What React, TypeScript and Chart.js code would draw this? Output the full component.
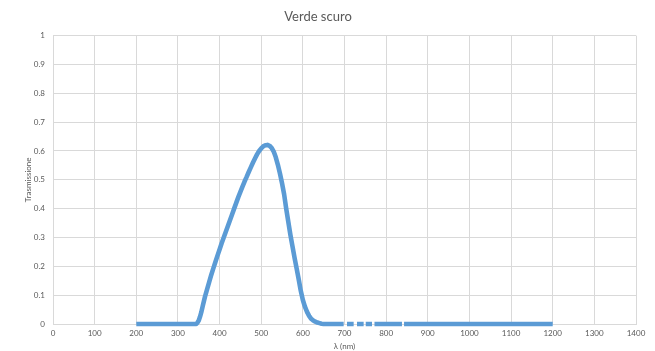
import React, { useEffect, useRef } from "react";
import { Chart, registerables } from "chart.js";

Chart.register(...registerables);

const title = "Verde scuro";
const xTitle = "λ (nm)";
const yTitle = "Trasmissione";

// Wavelengths (nm) and transmission values
const lowX = [200, 220, 240, 260, 280, 300, 320, 340];
const lowY = [0, 0, 0, 0, 0, 0, 0, 0];
const peakX = [344, 347, 350, 353, 356, 360, 365, 370, 375, 380, 385, 390, 395, 400, 405, 410, 415, 420, 425, 430, 435, 440, 445, 450, 455, 460, 465, 470, 475, 480, 485, 490, 495, 500, 505, 510, 515, 520, 525, 530, 535, 540, 545, 550, 555, 560, 565, 570, 575, 580, 585, 590, 595, 600, 605, 610, 615, 620, 625, 630, 635, 640, 645];
const peakY = [0.0, 0.005, 0.012, 0.025, 0.04, 0.065, 0.095, 0.12, 0.145, 0.17, 0.193, 0.215, 0.237, 0.258, 0.28, 0.3, 0.32, 0.34, 0.36, 0.38, 0.4, 0.42, 0.44, 0.458, 0.476, 0.494, 0.51, 0.527, 0.543, 0.559, 0.574, 0.588, 0.6, 0.609, 0.616, 0.62, 0.621, 0.618, 0.611, 0.598, 0.578, 0.552, 0.522, 0.488, 0.45, 0.4, 0.355, 0.31, 0.27, 0.23, 0.193, 0.155, 0.115, 0.083, 0.06, 0.042, 0.028, 0.018, 0.012, 0.008, 0.005, 0.003, 0.001];
const tailX = [650, 670, 698, 702, 706, 722, 726, 730, 746, 748, 751, 766, 769, 772, 800, 838, 840, 843, 900, 1000, 1100, 1200];
const tailY = [0, 0, 0, null, 0, 0, null, 0, 0, null, 0, 0, null, 0, 0, 0, null, 0, 0, 0, 0, 0];

const xTicksMax = 1400;
const FONT = "Lato, 'Open Sans', sans-serif";
const TEXT = "#595959";
const GRID = "#d9d9d9";
const BLUE = "#5B9BD5";

export default function App() {
  const ref = useRef<HTMLCanvasElement | null>(null);
  useEffect(() => {
    document.body.style.margin = "0";
    const pts = [
      ...lowX.map((x, i) => ({ x, y: lowY[i] })),
      ...peakX.map((x, i) => ({ x, y: peakY[i] })),
      ...tailX.map((x, i) => ({ x, y: tailY[i] as number | null })),
    ];
    const chart = new Chart(ref.current!, {
      type: "scatter",
      data: {
        datasets: [
          {
            data: pts as any,
            backgroundColor: BLUE,
            borderColor: BLUE,
            showLine: true,
            spanGaps: false,
            clip: false,
            borderWidth: 4.6,
            borderCapStyle: "butt",
            borderJoinStyle: "round",
            tension: 0,
            pointRadius: 0,
          },
        ],
      },
      options: {
        animation: false,
        responsive: false,
        layout: { padding: { left: 0, right: 19, top: 0, bottom: 0 } },
        plugins: {
          legend: { display: false },
          tooltip: { enabled: false },
          title: {
            display: true,
            text: title,
            color: TEXT,
            font: { family: FONT, size: 13, weight: "normal" },
            padding: { top: 9, bottom: 11 },
          },
        },
        scales: {
          x: {
            type: "linear",
            min: 0,
            max: xTicksMax,
            ticks: {
              stepSize: 100,
              color: TEXT,
              font: { family: FONT, size: 8 },
              padding: 5,
              maxRotation: 0,
              callback: (v: any) => String(v),
            },
            grid: { color: GRID, drawTicks: false },
            border: { color: GRID },
            title: { display: true, text: xTitle, color: TEXT, font: { family: FONT, size: 8 }, padding: 0 },
            afterFit: (s: any) => { s.height = 27; },
          },
          y: {
            min: 0,
            max: 1,
            ticks: {
              stepSize: 0.1,
              color: TEXT,
              font: { family: FONT, size: 8 },
              padding: 8,
              callback: (v: any) => String(Math.round(Number(v) * 10) / 10),
            },
            grid: { color: GRID, drawTicks: false },
            border: { color: GRID },
            title: { display: true, text: yTitle, color: TEXT, font: { family: FONT, size: 8 }, padding: { top: 24, bottom: 0 } },
            afterFit: (s: any) => { s.width = 53; },
          },
        },
      },
    });
    return () => chart.destroy();
  }, []);
  return (
    <div style={{ width: 655, height: 351, background: "#fff" }}>
      <canvas ref={ref} width={655} height={351} />
    </div>
  );
}
